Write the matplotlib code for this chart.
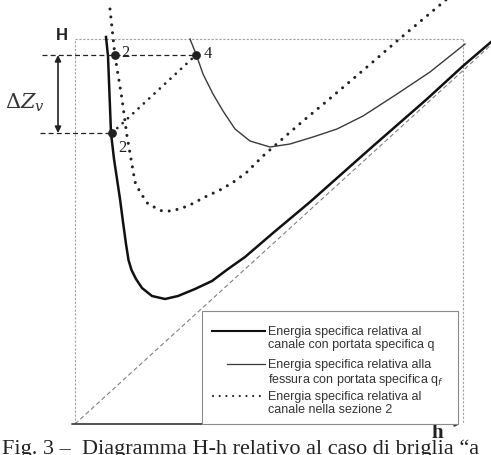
import matplotlib
matplotlib.use("Agg")
import matplotlib.pyplot as plt

# ---------------- data (arbitrary units) ----------------
# Energia specifica relativa al canale con portata specifica q (thick solid)
canale_h = [0.31, 0.33, 0.36, 0.39, 0.42, 0.45, 0.48, 0.51, 0.535, 0.565, 0.61,
            0.67, 0.77, 0.90, 1.03, 1.20, 1.37, 1.53, 1.70, 1.98, 2.35, 2.97,
            3.52, 3.88, 4.16]
canale_H = [3.87, 3.68, 2.91, 2.65, 2.45, 2.25, 2.02, 1.80, 1.64, 1.54, 1.45,
            1.36, 1.28, 1.25, 1.28, 1.35, 1.43, 1.55, 1.67, 1.91, 2.22, 2.77,
            3.25, 3.58, 3.82]

# Energia specifica relativa alla fessura con portata specifica qf (thin solid)
fessura_h = [1.15, 1.21, 1.28, 1.38, 1.48, 1.60, 1.75, 1.95, 2.15, 2.38,
             2.62, 2.88, 3.22, 3.55, 3.90]
fessura_H = [3.85, 3.70, 3.50, 3.30, 3.13, 2.95, 2.83, 2.77, 2.80, 2.87,
             2.95, 3.08, 3.30, 3.52, 3.80]

# Energia specifica relativa al canale nella sezione 2 (dotted)
sez2_h = [0.35, 0.40, 0.47, 0.52, 0.56, 0.60, 0.65, 0.73, 0.87, 0.97, 1.13,
          1.30, 1.47, 1.60, 1.72, 1.88, 2.05, 2.28, 2.52, 2.92, 3.22, 3.72]
sez2_H = [4.15, 3.68, 3.25, 2.88, 2.65, 2.42, 2.32, 2.20, 2.13, 2.13, 2.18,
          2.27, 2.35, 2.43, 2.52, 2.68, 2.83, 3.03, 3.23, 3.57, 3.83, 4.25]

# asymptote H = h (dashed)
asym_h = [0.0, 4.16]
asym_H = [0.0, 3.79]

# marked points
point_labels = ["2", "2", "4"]
point_h = [0.40, 0.37, 1.21]
point_H = [3.69, 2.91, 3.69]

# frame extents
frame_h = [0.0, 3.88]
frame_H = [0.0, 3.85]

legend_lines = [
    ["Energia specifica relativa al", "canale con portata specifica q"],
    ["Energia specifica relativa alla", "fessura con portata specifica q$_f$"],
    ["Energia specifica relativa al", "canale nella sezione 2"],
]
caption = "Fig. 3 \u2013  Diagramma H-h relativo al caso di briglia \u201ca"

# ---------------- figure ----------------
fig = plt.figure(figsize=(4.91, 4.56), dpi=100)
ax = fig.add_axes([0, 0, 1, 1])
ax.set_xlim(-0.75, 4.16)
ax.set_ylim(-0.31, 4.25)
ax.axis("off")

dot_style = (0, (0.01, 2.6))
grey = "#a0a0a0"

# frame (dotted light lines)
for xs, ys in [([frame_h[0], frame_h[0]], [frame_H[0], frame_H[1]]),
               ([frame_h[0], frame_h[1]], [frame_H[1], frame_H[1]]),
               ([frame_h[1], frame_h[1]], [frame_H[1], frame_H[0]])]:
    ax.plot(xs, ys, color=grey, lw=0.8, ls=(0, (2, 1.5)))

# h axis with arrow
ax.annotate("", xy=(frame_h[1] - 0.03, frame_H[0]), xytext=(frame_h[0] - 0.03, frame_H[0]),
            arrowprops=dict(arrowstyle="-|>", color="#333333", lw=1.2,
                            mutation_scale=7, shrinkA=0, shrinkB=0))

# asymptote
ax.plot(asym_h, asym_H, color="#808080", lw=0.8, ls=(0, (4, 2.5)))

# curves
ax.plot(sez2_h, sez2_H, color="#222222", lw=2.2, ls=dot_style,
        dash_capstyle="round", solid_capstyle="round")
ax.plot(fessura_h, fessura_H, color="#3a3a3a", lw=1.0, solid_joinstyle="round")
ax.plot(canale_h, canale_H, color="#111111", lw=1.8, solid_joinstyle="round")

# connecting dotted line 2 -> 4
ax.plot([point_h[1], point_h[2]], [point_H[1], point_H[2]], color="#222222", lw=2.0,
        ls=dot_style, dash_capstyle="round")

# horizontal dashed reference lines
ax.plot([-0.33, point_h[2]], [point_H[0], point_H[2]], color="#222222", lw=0.9,
        ls=(0, (4, 2.5)))
ax.plot([-0.35, point_h[1]], [point_H[1], point_H[1]], color="#222222", lw=0.9,
        ls=(0, (4, 2.5)))

# double arrow Delta Z_v
ax.annotate("", xy=(-0.17, point_H[1]), xytext=(-0.17, point_H[0]),
            arrowprops=dict(arrowstyle="<|-|>", color="#222222", lw=1.2,
                            mutation_scale=9, shrinkA=0, shrinkB=0))
ax.text(-0.50, 3.22, r"$\Delta Z_v$", fontsize=15, ha="center", va="center",
        color="#333333", math_fontfamily="dejavuserif")

# points
ax.scatter(point_h, point_H, s=28, color="#222222", zorder=5)
ax.text(point_h[0] + 0.06, point_H[0] + 0.03, point_labels[0], fontsize=12,
        family="Liberation Serif", ha="left", va="center", color="#222222")
ax.text(point_h[1] + 0.06, point_H[1] - 0.14, point_labels[1], fontsize=12,
        family="Liberation Serif", ha="left", va="center", color="#222222")
ax.text(point_h[2] + 0.08, point_H[2] + 0.02, point_labels[2], fontsize=12,
        family="Liberation Serif", ha="left", va="center", color="#222222")

# axis labels
ax.text(-0.13, 3.89, "H", fontsize=12, fontweight="bold", family="Liberation Sans",
        ha="center", va="center", color="#222222")
ax.text(3.62, -0.08, "h", fontsize=15, fontweight="bold", family="Liberation Serif",
        ha="center", va="center", color="#222222")

# legend box (manual)
lx0, lx1, ly0, ly1 = 1.27, 3.83, 0.0, 1.13
ax.fill([lx0, lx1, lx1, lx0], [ly0, ly0, ly1, ly1], facecolor="white",
        edgecolor="#8a8a8a", lw=0.8, zorder=6)
sample_x1 = 1.90
rows = [(0.93, 0.80), (0.60, 0.45), (0.28, 0.15)]
styles = [dict(color="#111111", lw=1.5, ls="-"),
          dict(color="#3a3a3a", lw=0.9, ls="-"),
          dict(color="#222222", lw=1.6, ls=(0, (0.01, 3.0)), dash_capstyle="round")]
starts = [1.37, 1.52, 1.38]
for (y1, y2), st, x0, lines in zip(rows, styles, starts, legend_lines):
    ax.plot([x0, sample_x1], [y1, y1], zorder=7, **st)
    ax.text(sample_x1 + 0.03, y1, lines[0], fontsize=9, family="Liberation Sans",
            ha="left", va="center", color="#333333", zorder=8)
    ax.text(sample_x1 + 0.03, y2, lines[1], fontsize=9, family="Liberation Sans",
            ha="left", va="center", color="#333333", zorder=8)

# caption
ax.text(-0.73, -0.15, caption, fontsize=16, family="Liberation Serif",
        ha="left", va="top", color="#222222")

fig.savefig("out.png", dpi=100)
